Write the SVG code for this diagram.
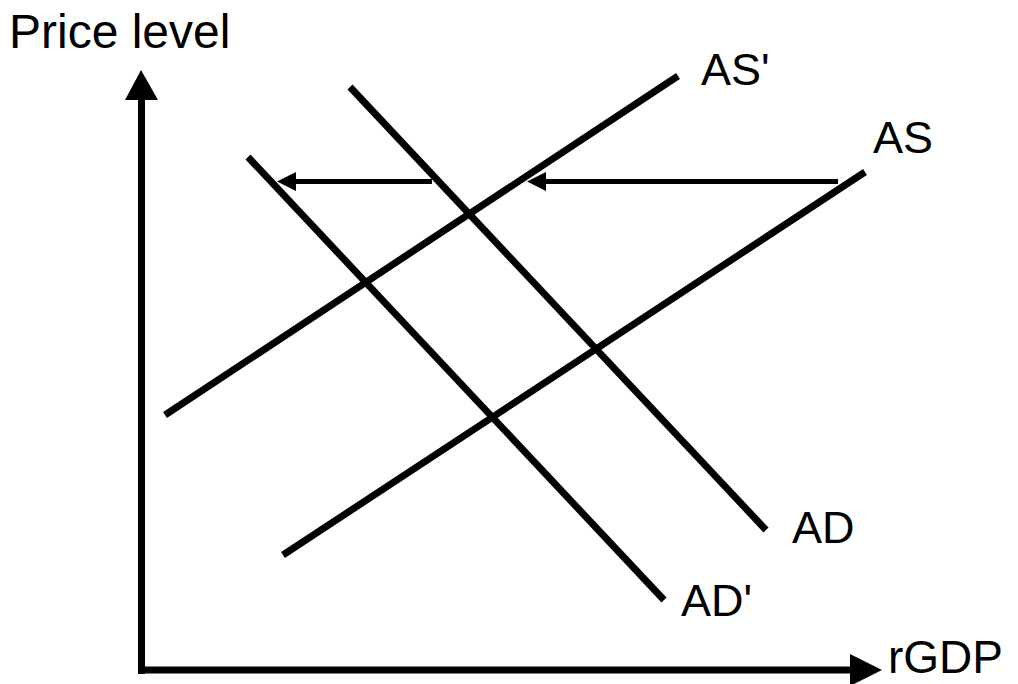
<svg xmlns="http://www.w3.org/2000/svg" width="1018" height="684" viewBox="0 0 1018 684">
<style>
text{font-family:"Liberation Sans",Arial,sans-serif;font-size:45px;fill:#000}
.curve{stroke:#000;stroke-width:7;fill:none}
.shift{stroke:#000;stroke-width:5;fill:none}
</style>
<rect width="1018" height="684" fill="#fff"/>
<g id="axes">
<line x1="141.5" y1="674" x2="141.5" y2="98" stroke="#000" stroke-width="7"/>
<polygon points="141,70 125,100 158,100" fill="#000"/>
<line x1="138" y1="670" x2="852" y2="670" stroke="#000" stroke-width="7"/>
<polygon points="882,670 850,654 850,686" fill="#000"/>
<text id="ylabel" x="9" y="48" style="font-size:48px">Price level</text>
<text id="xlabel" x="888" y="673" style="font-size:46px">rGDP</text>
</g>
<g id="AS">
<line class="curve" x1="283" y1="555" x2="865" y2="172"/>
<text x="873" y="153">AS</text>
</g>
<g id="ASprime">
<line class="curve" x1="165" y1="415" x2="678" y2="76"/>
<text x="701" y="85">AS'</text>
</g>
<g id="AD">
<line class="curve" x1="350" y1="87" x2="766" y2="530"/>
<text x="792" y="543">AD</text>
</g>
<g id="ADprime">
<line class="curve" x1="248" y1="157" x2="664" y2="600"/>
<text x="681" y="616">AD'</text>
</g>
<g id="connectors">
<line class="shift" x1="432" y1="181.5" x2="292" y2="181.5"/>
<polygon points="277,181.5 296,172 296,191" fill="#000"/>
<line class="shift" x1="838" y1="181.5" x2="542" y2="181.5"/>
<polygon points="527,181.5 546,172 546,191" fill="#000"/>
</g>
</svg>
